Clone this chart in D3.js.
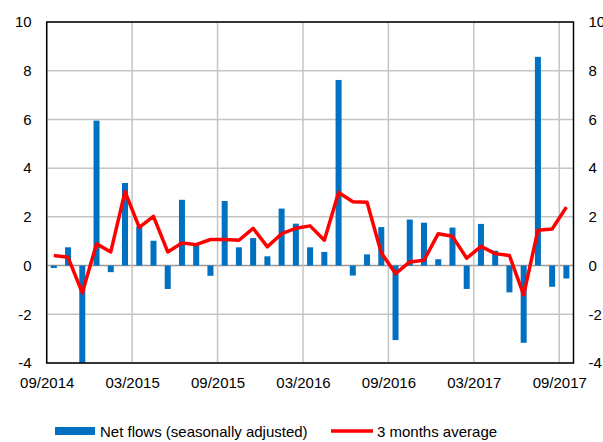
<!DOCTYPE html>
<html>
<head>
<meta charset="utf-8">
<script src="https://cdn.jsdelivr.net/npm/d3@7"></script>
<style>
  body { margin: 0; background: #fff; }
  text { font-family: "Liberation Sans", Arial, sans-serif; font-size: 15px; fill: #000; }
</style>
</head>
<body>
<svg id="chart" width="603" height="442"></svg>
<script>
// monthly data, 09/2014 .. 09/2017
var months = ['09/2014','10/2014','11/2014','12/2014','01/2015','02/2015','03/2015','04/2015','05/2015','06/2015','07/2015','08/2015',
  '09/2015','10/2015','11/2015','12/2015','01/2016','02/2016','03/2016','04/2016','05/2016','06/2016','07/2016','08/2016',
  '09/2016','10/2016','11/2016','12/2016','01/2017','02/2017','03/2017','04/2017','05/2017','06/2017','07/2017','08/2017','09/2017'];

var netFlows = [-0.1, 0.75, -4.0, 5.95, -0.27, 3.39, 1.61, 1.02, -0.96, 2.7, 0.86, -0.42,
  2.65, 0.75, 1.13, 0.38, 2.34, 1.72, 0.75, 0.56, 7.62, -0.41, 0.46, 1.58,
  -3.06, 1.89, 1.76, 0.26, 1.56, -0.96, 1.71, 0.61, -1.1, -3.17, 8.57, -0.87, -0.53];

var avg3m = [0.41, 0.34, -1.12, 0.89, 0.56, 3.03, 1.57, 2.02, 0.56, 0.93, 0.86, 1.07,
  1.07, 1.04, 1.53, 0.77, 1.31, 1.53, 1.63, 1.04, 3.0, 2.62, 2.6, 0.52,
  -0.33, 0.15, 0.22, 1.31, 1.2, 0.3, 0.79, 0.49, 0.41, -1.2, 1.45, 1.5, 2.4];

var xTickLabels = ['09/2014', '03/2015', '09/2015', '03/2016', '09/2016', '03/2017', '09/2017'];
var yTicks = [-4, -2, 0, 2, 4, 6, 8, 10];

var svg = d3.select('#chart');
var plotL = 46.7, plotR = 573.5, plotT = 22, plotB = 363;

var x = d3.scaleLinear().domain([0, months.length]).range([plotL, plotR]);
var y = d3.scaleLinear().domain([-4, 10]).range([plotB, plotT]);

// grid lines
var xTickIdx = xTickLabels.map(function (l) { return months.indexOf(l); });
svg.append('g').selectAll('line')
  .data(yTicks).enter().append('line')
  .attr('x1', plotL).attr('x2', plotR)
  .attr('y1', function (d) { return y(d); }).attr('y2', function (d) { return y(d); })
  .attr('stroke', function (d) { return d === 0 ? '#999' : '#c4c4c4'; })
  .attr('stroke-width', 1.5);
svg.append('g').selectAll('line')
  .data(xTickIdx).enter().append('line')
  .attr('x1', function (d) { return x(d); }).attr('x2', function (d) { return x(d); })
  .attr('y1', plotT).attr('y2', plotB)
  .attr('stroke', '#c4c4c4').attr('stroke-width', 1.5);

// bars
svg.append('g').selectAll('rect')
  .data(netFlows).enter().append('rect')
  .attr('x', function (d, i) { return x(i + 0.5) - 3; })
  .attr('width', 6)
  .attr('y', function (d) { return y(Math.max(0, d)); })
  .attr('height', function (d) { return Math.abs(y(d) - y(0)); })
  .attr('fill', '#0070c0');

// 3 month average line
var line = d3.line()
  .x(function (d, i) { return x(i + 0.5); })
  .y(function (d) { return y(d); });
svg.append('path')
  .datum(avg3m)
  .attr('d', line)
  .attr('fill', 'none')
  .attr('stroke', '#ff0000')
  .attr('stroke-width', 3.5)
  .attr('stroke-linejoin', 'round');

// frame
svg.append('rect')
  .attr('x', plotL).attr('y', plotT)
  .attr('width', plotR - plotL).attr('height', plotB - plotT)
  .attr('fill', 'none').attr('stroke', '#000').attr('stroke-width', 1.5);

// axes
var fmt = d3.format('d');
var yLeft = d3.axisLeft(y).tickValues(yTicks).tickFormat(function (d) { return String(d); })
  .tickSize(0).tickPadding(15);
var gl = svg.append('g').attr('transform', 'translate(' + plotL + ',0)').call(yLeft);
gl.select('.domain').remove();

var yRight = d3.axisRight(y).tickValues(yTicks).tickFormat(function (d) { return String(d); })
  .tickSize(0).tickPadding(15);
var gr = svg.append('g').attr('transform', 'translate(' + plotR + ',0)').call(yRight);
gr.select('.domain').remove();

var xAxis = d3.axisBottom(x).tickValues(xTickIdx)
  .tickFormat(function (d) { return months[d]; })
  .tickSize(0).tickPadding(14);
var gx = svg.append('g').attr('transform', 'translate(0,' + plotB + ')').call(xAxis);
gx.select('.domain').remove();

svg.selectAll('.tick text').style('font-size', '15px').style('font-family', '"Liberation Sans", Arial, sans-serif').attr('fill', '#000');

// legend
var lg = svg.append('g');
lg.append('rect').attr('x', 55).attr('y', 427).attr('width', 40).attr('height', 8).attr('fill', '#0070c0');
lg.append('text').attr('x', 100).attr('y', 437).text('Net flows (seasonally adjusted)');
lg.append('line').attr('x1', 331).attr('x2', 373).attr('y1', 431).attr('y2', 431)
  .attr('stroke', '#ff0000').attr('stroke-width', 3.5);
lg.append('text').attr('x', 377).attr('y', 437).text('3 months average');
</script>
</body>
</html>
